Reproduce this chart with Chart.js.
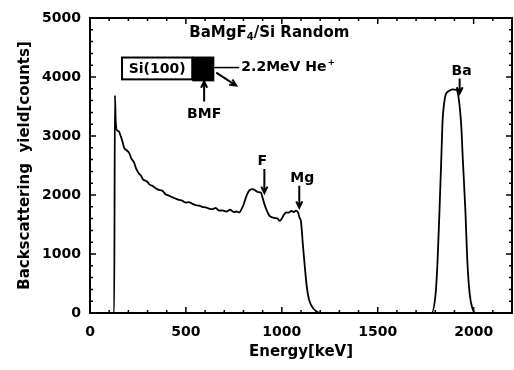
<!DOCTYPE html>
<html>
<head>
<meta charset="utf-8">
<script src="https://cdn.jsdelivr.net/npm/chart.js@4"></script>
<style>
  html, body { margin: 0; padding: 0; background: #fff; }
  #wrap { width: 514px; height: 370px; }
</style>
</head>
<body>
<div id="wrap"><canvas id="myChart" width="514" height="370"></canvas></div>
<script>
// RBS spectrum
const energy = [
  0, 126, 130, 134, 140, 150, 160, 170, 178, 190, 204, 215, 230, 240, 256, 265, 275, 291, 300,
  310, 325, 340, 355, 377, 395, 410, 430, 445, 460, 482, 500, 515, 534, 550, 569, 585, 604,
  620, 640, 655, 674, 690, 710, 730, 750, 765, 778, 790, 800, 813, 825, 835, 848, 860, 875,
  891, 900, 909, 920, 935, 950, 965, 978, 990, 1000, 1010, 1022, 1035, 1050, 1062, 1074,
  1085, 1092, 1100, 1110, 1120, 1130, 1140, 1155, 1175, 1200, 1780, 1802, 1812, 1822, 1831,
  1838, 1846, 1854, 1865, 1875, 1890, 1910, 1922, 1936, 1944, 1957, 1967, 1979, 1993, 2010, 2200
];
const counts = [
  0, 0, 3690, 3250, 3100, 3080, 3000, 2900, 2800, 2760, 2715, 2620, 2550, 2450, 2360, 2330, 2270, 2240, 2220,
  2180, 2155, 2120, 2090, 2070, 2010, 1990, 1960, 1940, 1920, 1900, 1870, 1880, 1850, 1830, 1820, 1800, 1790,
  1770, 1760, 1780, 1735, 1740, 1720, 1750, 1710, 1720, 1705, 1760, 1830, 1960, 2050, 2090, 2100, 2080, 2050,
  2040, 1950, 1850, 1750, 1650, 1620, 1610, 1600, 1560, 1600, 1660, 1705, 1700, 1730, 1710, 1735,
  1700, 1620, 1550, 1150, 780, 450, 250, 120, 40, 0, 0, 335, 890, 1735, 2575,
  3250, 3550, 3700, 3750, 3770, 3790, 3780, 3640, 3140, 2575, 1735, 890, 335, 85, 0, 0
];
const xTicks = [0, 500, 1000, 1500, 2000];
const yTicks = [0, 1000, 2000, 3000, 4000, 5000];

// annotation text and anchors, in data units
const peakLabels = ['F', 'Mg', 'Ba'];
const peakLabelAt = [[898, 2575], [1107, 2290], [1937, 4090]];
const peakArrowFrom = [[909, 2440], [1091, 2155], [1927, 3975]];
const peakArrowTo = [[909, 2035], [1091, 1785], [1927, 3720]];

const FONT = '"DejaVu Sans", sans-serif';

const framePlugin = {
  id: 'frame',
  afterDraw(chart) {
    const ctx = chart.ctx;
    const a = chart.chartArea;
    const xs = chart.scales.x, ys = chart.scales.y;
    const px = v => xs.getPixelForValue(v);
    const py = v => ys.getPixelForValue(v);
    ctx.save();
    ctx.strokeStyle = '#000';
    ctx.fillStyle = '#000';
    // frame
    ctx.lineWidth = 2;
    ctx.strokeRect(a.left, a.top, a.right - a.left, a.bottom - a.top);
    // inward ticks on all sides
    ctx.lineWidth = 1.5;
    ctx.beginPath();
    for (let e = 0; e <= 2200; e += 100) {
      const len = e % 500 === 0 ? 6 : 3;
      const x = px(e);
      ctx.moveTo(x, a.bottom); ctx.lineTo(x, a.bottom - len);
      ctx.moveTo(x, a.top); ctx.lineTo(x, a.top + len);
    }
    for (let c = 0; c <= 5000; c += 200) {
      const len = c % 1000 === 0 ? 6 : 3;
      const y = py(c);
      ctx.moveTo(a.left, y); ctx.lineTo(a.left + len, y);
      ctx.moveTo(a.right, y); ctx.lineTo(a.right - len, y);
    }
    ctx.stroke();

    // title with subscript
    ctx.textBaseline = 'middle';
    ctx.textAlign = 'left';
    const tx = px(935), ty = py(4750);
    const big = 'bold 15px ' + FONT, small = 'bold 10px ' + FONT;
    ctx.font = big;
    const w1 = ctx.measureText('BaMgF').width;
    const w3 = ctx.measureText('/Si Random').width;
    ctx.font = small;
    const w2 = ctx.measureText('4').width;
    let sx = tx - (w1 + w2 + w3) / 2;
    ctx.font = big; ctx.fillText('BaMgF', sx, ty); sx += w1;
    ctx.font = small; ctx.fillText('4', sx, ty + 5); sx += w2;
    ctx.font = big; ctx.fillText('/Si Random', sx, ty);

    // sample sketch: Si(100) substrate + BMF film
    const bx0 = px(167), bx1 = px(533), bx2 = px(648);
    const by0 = py(4330), by1 = py(3960);
    ctx.fillStyle = '#fff';
    ctx.fillRect(bx0, by0, bx1 - bx0, by1 - by0);
    ctx.lineWidth = 2;
    ctx.strokeRect(bx0, by0, bx1 - bx0, by1 - by0);
    ctx.fillStyle = '#000';
    ctx.fillRect(bx1, by0 - 1, bx2 - bx1, by1 - by0 + 3);
    ctx.font = 'bold 14px ' + FONT;
    ctx.textAlign = 'center';
    ctx.fillText('Si(100)', (bx0 + bx1) / 2, (by0 + by1) / 2 + 1);

    // beam label
    ctx.lineWidth = 1.5;
    ctx.beginPath();
    ctx.moveTo(bx2, py(4160)); ctx.lineTo(px(778), py(4160));
    ctx.stroke();
    ctx.textAlign = 'left';
    ctx.font = 'bold 14px ' + FONT;
    const hx = px(789), hy = py(4160);
    ctx.fillText('2.2MeV He', hx, hy);
    const hw = ctx.measureText('2.2MeV He').width;
    ctx.font = 'bold 9px ' + FONT;
    ctx.fillText('+', hx + hw + 1, hy - 5);

    // arrows
    function arrow(x0, y0, x1, y1) {
      const ang = Math.atan2(y1 - y0, x1 - x0);
      const h = 7;
      ctx.beginPath();
      ctx.moveTo(x0, y0); ctx.lineTo(x1, y1);
      ctx.moveTo(x1 - h * Math.cos(ang - 0.45), y1 - h * Math.sin(ang - 0.45));
      ctx.lineTo(x1, y1);
      ctx.lineTo(x1 - h * Math.cos(ang + 0.45), y1 - h * Math.sin(ang + 0.45));
      ctx.stroke();
    }
    ctx.lineWidth = 2;
    arrow(px(658), py(4075), px(762), py(3855));
    arrow(px(595), py(3585), px(595), py(3925));
    ctx.font = 'bold 14px ' + FONT;
    ctx.textAlign = 'center';
    ctx.fillText('BMF', px(595), py(3370));

    // peak labels
    peakLabels.forEach((t, i) => {
      ctx.font = 'bold 14px ' + FONT;
      ctx.fillText(t, px(peakLabelAt[i][0]), py(peakLabelAt[i][1]));
      ctx.lineWidth = 2;
      arrow(px(peakArrowFrom[i][0]), py(peakArrowFrom[i][1]),
            px(peakArrowTo[i][0]), py(peakArrowTo[i][1]));
    });
    ctx.restore();
  }
};

const data = {
  datasets: [{
    label: 'BaMgF4/Si Random',
    data: energy.map((e, i) => ({ x: e, y: counts[i] })),
    borderColor: '#000',
    borderWidth: 1.8,
    pointRadius: 0,
    fill: false,
    cubicInterpolationMode: 'monotone'
  }]
};

const tickFont = { family: FONT, size: 14, weight: 'bold' };
const titleFont = { family: FONT, size: 15, weight: 'bold' };

const config = {
  type: 'line',
  data,
  options: {
    responsive: false,
    animation: false,
    devicePixelRatio: 1,
    layout: { padding: { top: 18, right: 2, left: 0, bottom: 0 } },
    plugins: { legend: { display: false }, tooltip: { enabled: false } },
    scales: {
      x: {
        type: 'linear',
        min: 0, max: 2200,
        afterBuildTicks: s => { s.ticks = xTicks.map(v => ({ value: v })); },
        afterFit: s => { s.height = 57; },
        ticks: { font: tickFont, color: '#000', padding: 11, maxRotation: 0, callback: v => String(v) },
        grid: { display: false, drawTicks: false },
        border: { display: false },
        title: { display: true, text: 'Energy[keV]', font: titleFont, color: '#000', padding: { top: 0, bottom: 9 } }
      },
      y: {
        min: 0, max: 5000,
        afterBuildTicks: s => { s.ticks = yTicks.map(v => ({ value: v })); },
        afterFit: s => { s.width = 90; },
        ticks: { font: tickFont, color: '#000', padding: 9, callback: v => String(v) },
        grid: { display: false, drawTicks: false },
        border: { display: false },
        title: { display: true, text: 'Backscattering  yield[counts]', font: titleFont, color: '#000', padding: { top: 16, bottom: 0 } }
      }
    }
  },
  plugins: [framePlugin]
};

var myChart = new Chart(document.getElementById('myChart'), config);
</script>
</body>
</html>
